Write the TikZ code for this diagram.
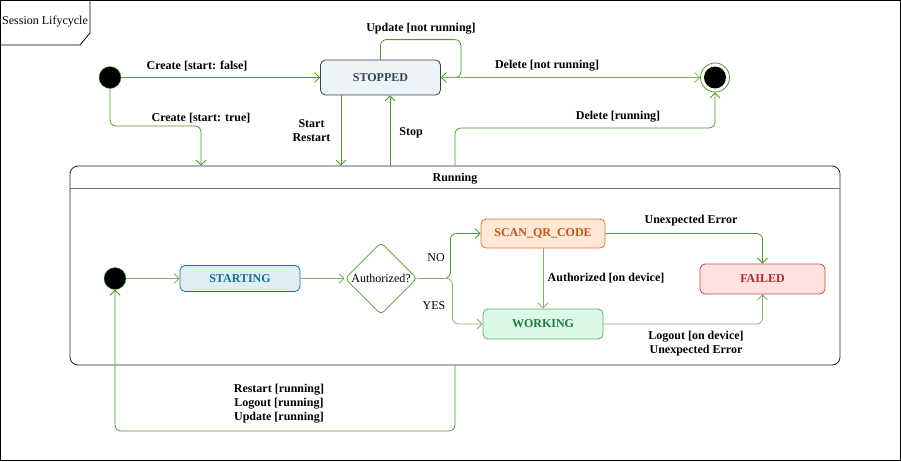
\documentclass[tikz,border=0pt]{standalone}
\usepackage{fontspec}
\setmainfont{Liberation Serif}
\usetikzlibrary{arrows.meta,shapes.geometric}

\definecolor{edgegreen}{HTML}{4D9A2A}
\definecolor{lightgreen}{HTML}{82B366}
\definecolor{stopfill}{HTML}{EEF3F8}
\definecolor{stopdraw}{HTML}{314354}
\definecolor{startfill}{HTML}{DFEFF1}
\definecolor{startdraw}{HTML}{10739E}
\definecolor{scanfill}{HTML}{FFE9D4}
\definecolor{scandraw}{HTML}{D9703C}
\definecolor{scantext}{HTML}{C4501A}
\definecolor{workfill}{HTML}{DCF8E6}
\definecolor{workdraw}{HTML}{5AAE62}
\definecolor{worktext}{HTML}{1E7B3C}
\definecolor{failfill}{HTML}{FFE1E1}
\definecolor{faildraw}{HTML}{C54848}
\definecolor{failtext}{HTML}{B42626}

\begin{document}
\begin{tikzpicture}[x=1pt, y=-1pt,
   font=\fontsize{12}{14}\selectfont,
   state/.style={draw, rounded corners=5pt, minimum width=120pt, minimum height=30pt,
                 line width=0.8pt, font=\fontsize{12}{14}\selectfont\bfseries},
   initial/.style={circle, draw=edgegreen, fill=black, minimum size=22pt, inner sep=0pt},
   trans/.style={draw=edgegreen, line width=0.8pt, rounded corners=6pt,
                 -{Straight Barb[length=5pt, width=10pt]}},
   lbl/.style={font=\fontsize{12}{14}\selectfont\bfseries, align=center, inner sep=1pt, yshift=-2pt}]

\useasboundingbox (0,0) rectangle (901,461);
% frame
\draw[line width=0.8pt] (0.5,0.5) rectangle (900,460);
\draw[line width=0.8pt] (0.5,45) -- (80,45) -- (90,33) -- (90,0.5);
\node (title) at (45,22) {Session Lifycycle};

% top level states
\node[initial] (init) at (110,77.5) {};
\node[state, fill=stopfill, draw=stopdraw, text=stopdraw, minimum height=35pt] (stopped) at (380.5,77.5) {STOPPED};
\node[circle, draw=edgegreen, line width=0.8pt, minimum size=29pt, inner sep=0pt] (final) at (715,77.5) {};
\node[circle, fill=black, minimum size=22pt, inner sep=0pt] (finaldot) at (final) {};

% running container
\node[draw=black!85, line width=0.8pt, rounded corners=8pt, minimum width=770pt, minimum height=199pt] (run) at (455,265.5) {};
\draw[black!55, line width=1pt] (run.west |- 0,188) -- (run.east |- 0,188);
\node[lbl] (runtitle) at (455,177) {Running};

% inner states
\node[initial] (init2) at (115,278.5) {};
\node[state, fill=startfill, draw=startdraw, text=startdraw, minimum height=26pt] (starting) at (240,278.5) {STARTING};
\node[diamond, draw=edgegreen, line width=0.8pt, rounded corners=4pt, minimum size=72pt, inner sep=0pt] (auth) at (381,278.5) {Authorized?};
\node[state, fill=scanfill, draw=scandraw, text=scantext, minimum width=124pt, minimum height=29pt] (scan) at (543,233.5) {SCAN\_QR\_CODE};
\node[state, fill=workfill, draw=workdraw, text=worktext] (working) at (543,324) {WORKING};
\node[state, fill=failfill, draw=faildraw, text=failtext, minimum width=125pt] (failed) at (762.5,279) {FAILED};

% transitions
\draw[trans] (init) -- (stopped);
\draw[trans] (init) -- (110,126) -| (run.north -| 201,0);
\draw[trans] (stopped.north) -- ++(0,-20) -| ([xshift=20pt]stopped.east) -- (stopped.east);
\draw[trans, draw=lightgreen] (stopped) -- (final);
\draw[trans] (stopped.south -| 341,0) -- (run.north -| 341,0);
\draw[trans] (run.north -| 390,0) -- (stopped.south -| 390,0);
\draw[trans] (run.north -| 455,0) -- (455,128) -| (final);
\draw[trans, draw=lightgreen] (init2) -- (starting);
\draw[trans, draw=lightgreen] (starting) -- (auth);
\draw[trans] (auth.east) -- ++(33,0) |- (scan);
\draw[trans, draw=lightgreen] (auth.east) -- ++(35,0) |- (working);
\draw[trans, draw=lightgreen] (scan) -- (working);
\draw[trans] (scan) -| (failed);
\draw[trans, draw=lightgreen] (working) -| (failed);
\draw[trans] (run.south -| 455,0) -- (455,431) -| (init2);

% labels
\node[lbl] (l1) at (197,64) {Create [start: false]};
\node[lbl] (l2) at (201,116) {Create [start: true]};
\node[lbl] (l3) at (421,27) {Update [not running]};
\node[lbl] (l4) at (547,64) {Delete [not running]};
\node[lbl] (l5) at (311.5,129) {Start\\Restart};
\node[lbl] (l6) at (411,131) {Stop};
\node[lbl] (l7) at (618,115) {Delete [running]};
\node (l8) at (436,258) {NO};
\node (l9) at (434,306) {YES};
\node[lbl] (l10) at (606,276) {Authorized [on device]};
\node[lbl] (l11) at (691,219) {Unexpected Error};
\node[lbl] (l12) at (696,342) {Logout [on device]\\Unexpected Error};
\node[lbl] (l13) at (279,402) {Restart [running]\\Logout [running]\\Update [running]};

\end{tikzpicture}
\end{document}
